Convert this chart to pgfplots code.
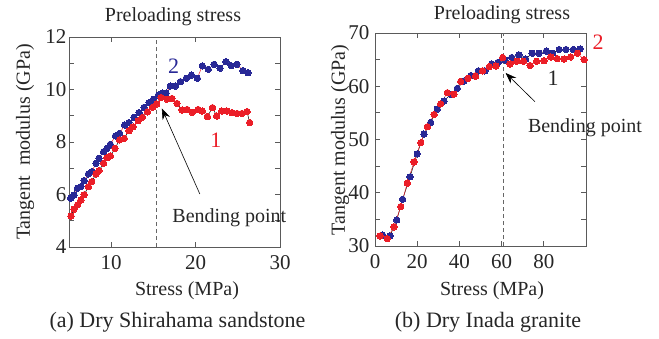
\documentclass[border=0pt]{standalone}
\usepackage{fontspec}
\setmainfont{Liberation Serif}
\usepackage{pgfplots}
\pgfplotsset{compat=1.18}
\usetikzlibrary{arrows.meta}
\definecolor{myblue}{RGB}{40,40,150}
\definecolor{myred}{RGB}{235,30,40}
\definecolor{frame}{RGB}{90,90,90}

\pgfplotstableread{
x y
5.2 5.86
5.6 5.98
6.0 6.24
6.4 6.30
6.8 6.53
7.3 6.78
7.7 6.87
8.2 7.19
8.55 7.38
9.1 7.63
9.5 7.76
9.9 7.91
10.5 8.23
11.0 8.33
11.6 8.65
12.1 8.74
12.7 8.94
13.3 9.12
13.9 9.32
14.5 9.50
15.0 9.63
15.6 9.79
16.05 9.86
16.5 9.86
17.0 10.13
17.6 10.13
18.2 10.30
18.9 10.43
19.5 10.55
20.2 10.43
20.8 10.90
21.5 10.77
22.2 10.96
22.9 10.81
23.6 11.06
24.2 10.91
24.9 10.96
25.6 10.72
26.2 10.64
}\sandblue

\pgfplotstableread{
x y
5.24 5.18
5.6 5.44
6.0 5.60
6.4 5.79
6.8 5.99
7.3 6.30
7.7 6.49
8.2 6.78
8.55 6.91
9.1 7.19
9.5 7.40
9.9 7.47
10.45 7.76
11.0 8.08
11.55 8.14
12.1 8.43
12.6 8.58
13.2 8.81
13.7 8.94
14.3 9.15
14.9 9.32
15.4 9.45
15.9 9.70
16.6 9.63
17.2 9.66
17.8 9.47
18.4 9.22
19.0 9.24
19.6 9.13
20.3 9.24
20.8 9.18
21.4 8.97
22.0 9.31
22.5 8.99
23.1 9.18
23.7 9.18
24.3 9.12
24.9 9.09
25.5 9.09
26.1 9.16
26.4 8.74
}\sandred

\pgfplotstableread{
x y
3.6 32.07
7.1 31.9
10.3 34.9
13.1 38.77
16.6 43.0
20.0 47.3
23.2 51.0
26.4 53.2
29.5 55.7
32.7 57.2
35.9 58.5
39.0 59.6
42.2 61.0
45.4 62.0
49.0 62.9
52.1 62.9
55.3 64.2
58.4 64.5
61.6 64.9
64.8 65.4
68.2 65.9
71.4 65.1
74.5 66.2
77.7 66.2
81.2 66.6
84.2 66.2
87.3 66.9
90.5 66.9
94.0 66.9
97.2 67.0
}\granblue

\pgfplotstableread{
x y
2.4 31.9
5.8 31.4
9.0 33.6
12.2 37.4
15.3 41.8
18.5 45.8
21.7 49.4
24.8 52.4
28.0 54.7
31.1 56.7
34.3 58.8
37.4 58.5
40.6 60.9
44.1 61.5
47.7 61.9
51.0 62.9
54.2 63.7
57.3 63.8
60.5 65.4
64.0 64.2
67.2 64.7
70.3 64.7
73.5 63.9
76.6 64.7
80.1 64.8
83.3 65.5
86.4 65.2
89.6 65.1
92.7 65.5
95.9 66.2
99.1 65.0
}\granred

\begin{document}
\begin{tikzpicture}
\path[use as bounding box] (0pt,0pt) rectangle (659pt,338pt);
\pgfplotsset{every axis/.append style={
  scale only axis, clip=false,
  tick align=inside,
  axis line style={frame, line width=0.8pt},
  every tick/.style={frame, line width=0.8pt},
  major tick length=5pt, minor tick length=5pt,
  /pgf/number format/assume math mode=true,
  tick label style={font=\fontsize{21}{21}\selectfont, text=black!85},
}}
% Left
\begin{axis}[at={(69pt,91pt)}, anchor=south west, width=211pt, height=210pt,
  xmin=5, xmax=30, ymin=4, ymax=12,
  xtick={10,20,30}, ytick={4,6,8,10,12}, minor ytick={5,7,9,11},
  xticklabel style={yshift=-5pt}, yticklabel style={xshift=1pt}]
\draw[dash pattern=on 4pt off 3pt, black!60, line width=0.9pt] (axis cs:15.4,4) -- (axis cs:15.4,12);
\addplot[myred, line width=0.5pt, mark=*, mark size=3.2pt, mark options={solid, draw=myblue, fill=myblue, line width=0pt}] table {\sandblue};
\addplot[black, line width=0.5pt, mark=*, mark size=3.2pt, mark options={solid, draw=myred, fill=myred, line width=0pt}] table {\sandred};
\draw[-{Stealth[length=11pt,width=8pt]}, line width=0.6pt] (axis cs:20.5,6.02) -- (axis cs:16.0,9.28);
\node[font=\fontsize{20}{20}\selectfont, text=black!85] at (axis cs:24.0,5.1) {Bending point};
\node[font=\fontsize{22}{22}\selectfont, text=myblue] at (axis cs:17.4,10.87) {2};
\node[font=\fontsize{22}{22}\selectfont, text=myred] at (axis cs:22.4,8.08) {1};
\end{axis}
% Right
\begin{axis}[at={(375pt,92pt)}, anchor=south west, width=211pt, height=213pt,
  xmin=0, xmax=100, ymin=30, ymax=70,
  xtick={0,20,40,60,80}, ytick={30,40,50,60,70}, minor ytick={35,45,55,65},
  xticklabel style={yshift=-5pt}, yticklabel style={xshift=-2pt}]
\draw[dash pattern=on 4pt off 3pt, black!60, line width=0.9pt] (axis cs:61,30) -- (axis cs:61,70);
\addplot[black, line width=0.5pt, mark=*, mark size=3.2pt, mark options={solid, draw=myblue, fill=myblue, line width=0pt}] table {\granblue};
\addplot[myred, line width=0.5pt, mark=*, mark size=3.2pt, mark options={solid, draw=myred, fill=myred, line width=0pt}] table {\granred};
\draw[-{Stealth[length=11pt,width=8pt]}, line width=0.6pt] (axis cs:75.8,57.1) -- (axis cs:61.9,62.5);
\node[font=\fontsize{20}{20}\selectfont, text=black!85] at (axis cs:99.5,52.3) {Bending point};
\node[font=\fontsize{22}{22}\selectfont, text=myred] at (axis cs:105.7,68.3) {2};
\node[font=\fontsize{22}{22}\selectfont, text=black!85] at (axis cs:84.4,61.5) {1};
\end{axis}
% Outer texts
\node[rotate=90, font=\fontsize{20}{20}\selectfont, text=black!85] at (25pt,196pt) {Tangent\ \ modulus (GPa)};
\node[rotate=90, font=\fontsize{20}{20}\selectfont, text=black!85] at (340pt,198pt) {Tangent modulus (GPa)};
\node[font=\fontsize{20}{20}\selectfont, text=black!85] at (173pt,321pt) {Preloading stress};
\node[font=\fontsize{20}{20}\selectfont, text=black!85] at (502pt,323pt) {Preloading stress};
\node[font=\fontsize{20}{20}\selectfont, text=black!85] at (187pt,47pt) {Stress (MPa)};
\node[font=\fontsize{20}{20}\selectfont, text=black!85] at (492pt,47pt) {Stress (MPa)};
\node[font=\fontsize{22}{22}\selectfont, text=black!85] at (177.5pt,16pt) {(a) Dry Shirahama sandstone};
\node[font=\fontsize{22}{22}\selectfont, text=black!85] at (488pt,16pt) {(b) Dry Inada granite};
\end{tikzpicture}
\end{document}
